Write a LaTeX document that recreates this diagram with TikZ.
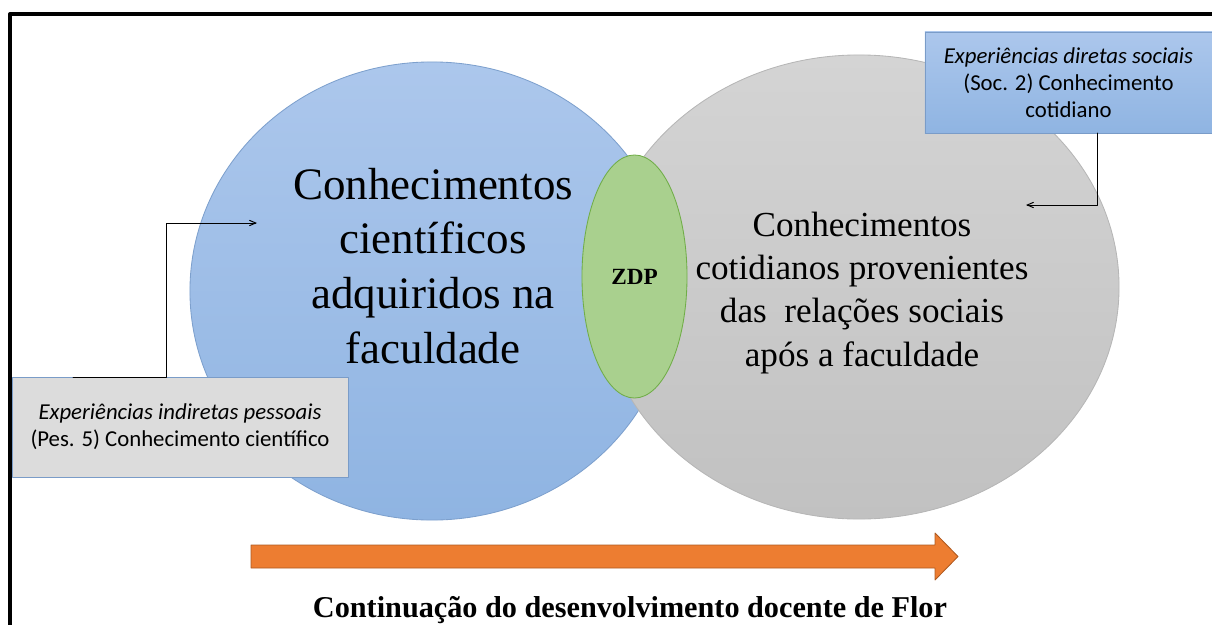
\documentclass[tikz,border=0pt]{standalone}
\usepackage{fontspec}
\setmainfont{Liberation Serif}
\newfontfamily\carlito{Carlito}
\usetikzlibrary{arrows,shapes.geometric}
\definecolor{blueTop}{RGB}{172,199,236}
\definecolor{blueBot}{RGB}{143,180,226}
\definecolor{blueLine}{RGB}{125,160,205}
\definecolor{grayTop}{RGB}{212,212,212}
\definecolor{grayBot}{RGB}{193,193,193}
\definecolor{grayLine}{RGB}{182,182,182}
\definecolor{zdpFill}{RGB}{169,208,142}
\definecolor{zdpLine}{RGB}{112,173,71}
\definecolor{boxGray}{RGB}{220,220,220}
\definecolor{boxLine}{RGB}{122,156,200}
\definecolor{orangeFill}{RGB}{237,125,49}
\definecolor{orangeLine}{RGB}{174,90,33}
\begin{document}
\begin{tikzpicture}[line cap=round,line join=round,>=angle 45,x=0.025cm,y=-0.025cm,
  circ/.style={ellipse,inner sep=0pt,outer sep=0pt,line width=0.6pt},
  bigtxt/.style={align=center,font=\fontsize{32pt}{39pt}\selectfont},
  medtxt/.style={align=center,font=\fontsize{25pt}{30.6pt}\selectfont},
  expbox/.style={rectangle,align=center,inner sep=0pt,line width=0.6pt,font=\carlito\fontsize{16.2pt}{19pt}\selectfont},
  link/.style={->,line width=0.7pt}]
\clip(0,0) rectangle (1212,625);
\draw [line width=0.1cm,line cap=rect] (10,625)-- (10,14)-- (1212,14);
\node[circ,draw=blueLine,top color=blueTop,bottom color=blueBot,minimum width=12.1cm,minimum height=11.45cm] (cient) at (432,291) {};
\node[circ,draw=grayLine,top color=grayTop,bottom color=grayBot,minimum width=13cm,minimum height=11.6cm] (cotid) at (859,287) {};
\node[circ,draw=zdpLine,fill=zdpFill,minimum width=2.625cm,minimum height=6.075cm,font=\bfseries\fontsize{16.5pt}{18pt}\selectfont] (zdp) at (634.5,276.5) {ZDP};
\node[bigtxt] (cienttxt) at (433,266) {Conhecimentos\\científicos\\adquiridos na\\faculdade};
\node[medtxt] (cotidtxt) at (862,293) {Conhecimentos\\cotidianos provenientes\\das\ \ relações sociais\\após a faculdade};
\node[expbox,draw=boxLine,top color=blueTop,bottom color=blueBot,minimum width=7.175cm,minimum height=2.525cm] (socbox) at (1068.5,82.5) {\textit{Experiências diretas sociais}\\(Soc. 2) Conhecimento\\cotidiano};
\node[expbox,draw=boxLine,fill=boxGray,minimum width=8.4cm,minimum height=2.5cm] (pesbox) at (180,427) {\textit{Experiências indiretas pessoais}\\(Pes. 5) Conhecimento científico};
\coordinate (pesfoot) at (73,377);
\coordinate (cientip) at (257,223);
\draw [link] (pesfoot) -| (166,223) -- (cientip);
\coordinate (socfoot) at (1097,133);
\coordinate (cotidtip) at (1026,205);
\draw [link] (socfoot) |- (cotidtip);
\filldraw [fill=orangeFill,draw=orangeLine,line width=0.6pt] (251,545)-- (935,545)-- (935,533)-- (958,556.5)-- (935,580)-- (935,568)-- (251,568)-- cycle;
\node[anchor=base,font=\bfseries\fontsize{21.5pt}{24pt}\selectfont] (devtxt) at (630,617) {Continuação do desenvolvimento docente de Flor};
\end{tikzpicture}
\end{document}
